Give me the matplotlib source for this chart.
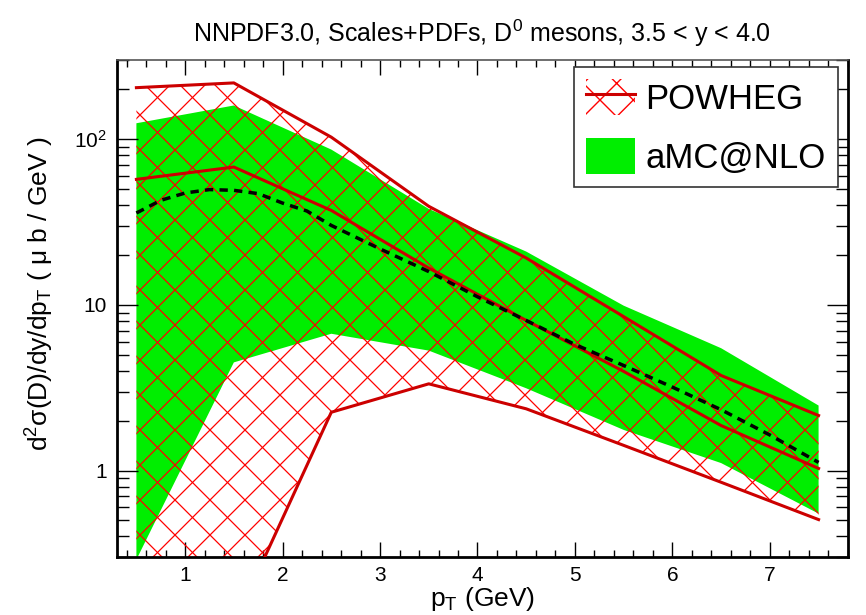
import numpy as np
import matplotlib
matplotlib.use('Agg')
import matplotlib.pyplot as plt
import matplotlib.transforms as mtransforms
from matplotlib.ticker import MultipleLocator, LogLocator, FuncFormatter, NullFormatter
from matplotlib.patches import Patch
from matplotlib.lines import Line2D

plt.rcParams['font.family'] = ['Liberation Sans', 'DejaVu Sans']
plt.rcParams['mathtext.fontset'] = 'custom'
plt.rcParams['mathtext.rm'] = 'Liberation Sans'
plt.rcParams['mathtext.it'] = 'Liberation Sans:italic'

# POWHEG band (scales+PDFs), pT bin centres
pt_bins = [0.5, 1.5, 2.5, 3.5, 4.5, 5.5, 6.5, 7.5]
powheg_hi = [205, 219, 103, 39.4, 19.2, 8.5, 3.75, 2.15]
powheg_mid = [57.3, 68, 37.2, 16.7, 8.06, 3.97, 1.87, 1.03]
powheg_lo = [0.06, 0.118, 2.25, 3.34, 2.36, 1.42, 0.85, 0.506]

# aMC@NLO band
amc_hi = [125, 160, 86.7, 38, 21, 9.9, 5.48, 2.47]
amc_lo = [0.29, 4.5, 6.7, 5.3, 3.14, 1.76, 1.11, 0.55]

# aMC@NLO central (dashed)
amc_pt = [0.5, 0.75, 1.0, 1.25, 1.5, 1.75, 2.0, 2.25, 2.5, 3.0, 3.5, 4.0,
          4.5, 5.0, 5.5, 6.0, 6.5, 7.0, 7.5]
amc_mid = [35.9, 42.8, 47.4, 49.7, 49.2, 47, 41.2, 36.9, 30.2, 21.8, 15.9, 11.2,
           8.06, 5.77, 4.31, 3.19, 2.33, 1.64, 1.12]

green = '#00ee00'
dark_red = '#cc0000'

fig = plt.figure(figsize=(8.66, 6.15), dpi=100)
ax = fig.add_axes([0.135, 0.094, 0.844, 0.808])

ax.fill_between(pt_bins, amc_lo, amc_hi, facecolor=green,
                edgecolor='none', zorder=1)

# sparse cross hatch for POWHEG band, clipped to the band
band = ax.fill_between(pt_bins, powheg_lo, powheg_hi, facecolor='none',
                       edgecolor='none', zorder=2)
clip_path = band.get_paths()[0]
xs = np.array([0, 900])
for off in np.arange(-900, 1500, 35):
    for s in (1, -1):
        ln, = ax.plot(xs, s * xs + off, color='#ff0000', lw=0.9,
                      transform=mtransforms.IdentityTransform(), zorder=2)
        ln.set_clip_path(clip_path, ax.transData)

for yv in (powheg_hi, powheg_mid, powheg_lo):
    ax.plot(pt_bins, yv, color=dark_red, lw=2.2, zorder=3)

ax.plot(amc_pt, amc_mid, color='black', lw=2.5, ls=(0, (2.4, 1.8)), zorder=4)

ax.set_yscale('log')
ax.set_xlim(0.3, 7.8)
ax.set_ylim(0.3, 300)

ax.xaxis.set_major_locator(MultipleLocator(1))
ax.xaxis.set_minor_locator(MultipleLocator(0.2))
ax.yaxis.set_major_locator(LogLocator(base=10))
ax.yaxis.set_minor_locator(LogLocator(base=10, subs=np.arange(2, 10)))
ax.yaxis.set_minor_formatter(NullFormatter())
ax.yaxis.set_major_formatter(FuncFormatter(
    lambda v, p: {1: '1', 10: '10', 100: '10$^2$'}.get(int(round(v)), '')))

ax.tick_params(axis='both', which='both', direction='in', top=True, right=True,
               labelsize=15, width=1.0)
ax.tick_params(axis='x', which='major', length=11, pad=6)
ax.tick_params(axis='x', which='minor', length=5)
ax.tick_params(axis='y', which='major', length=15, pad=7)
ax.tick_params(axis='y', which='minor', length=8.5)

for side in ('left', 'bottom', 'right'):
    ax.spines[side].set_linewidth(2)
ax.spines['top'].set_linewidth(1.2)
ax.spines['top'].set_color('#555555')

ax.set_title('NNPDF3.0, Scales+PDFs, D$^{0}$ mesons, 3.5 < y < 4.0',
             fontsize=18, pad=13)
ax.set_xlabel('p$_{\\mathrm{T}}$ (GeV)', fontsize=19, labelpad=0)
ax.set_ylabel('d$^{2}$σ(D)/dy/dp$_{\\mathrm{T}}$ ( μ b / GeV )', fontsize=19)
ax.yaxis.set_label_coords(-0.083, 0.53)

h_pow = (Patch(facecolor='none', edgecolor='#ff0000', hatch='x', lw=0),
         Line2D([], [], color=dark_red, lw=2.2))
h_amc = Patch(facecolor=green, edgecolor='none')
leg = ax.legend([h_pow, h_amc], ['POWHEG', 'aMC@NLO'], loc='upper right',
                bbox_to_anchor=(0.986, 0.986), borderaxespad=0, fontsize=25,
                handlelength=1.4, handleheight=1.2, handletextpad=0.3,
                labelspacing=0.65, borderpad=0.35, fancybox=False, framealpha=1)
leg.get_frame().set_edgecolor('#333333')
leg.get_frame().set_linewidth(1.2)

fig.savefig('out.png', dpi=100)
